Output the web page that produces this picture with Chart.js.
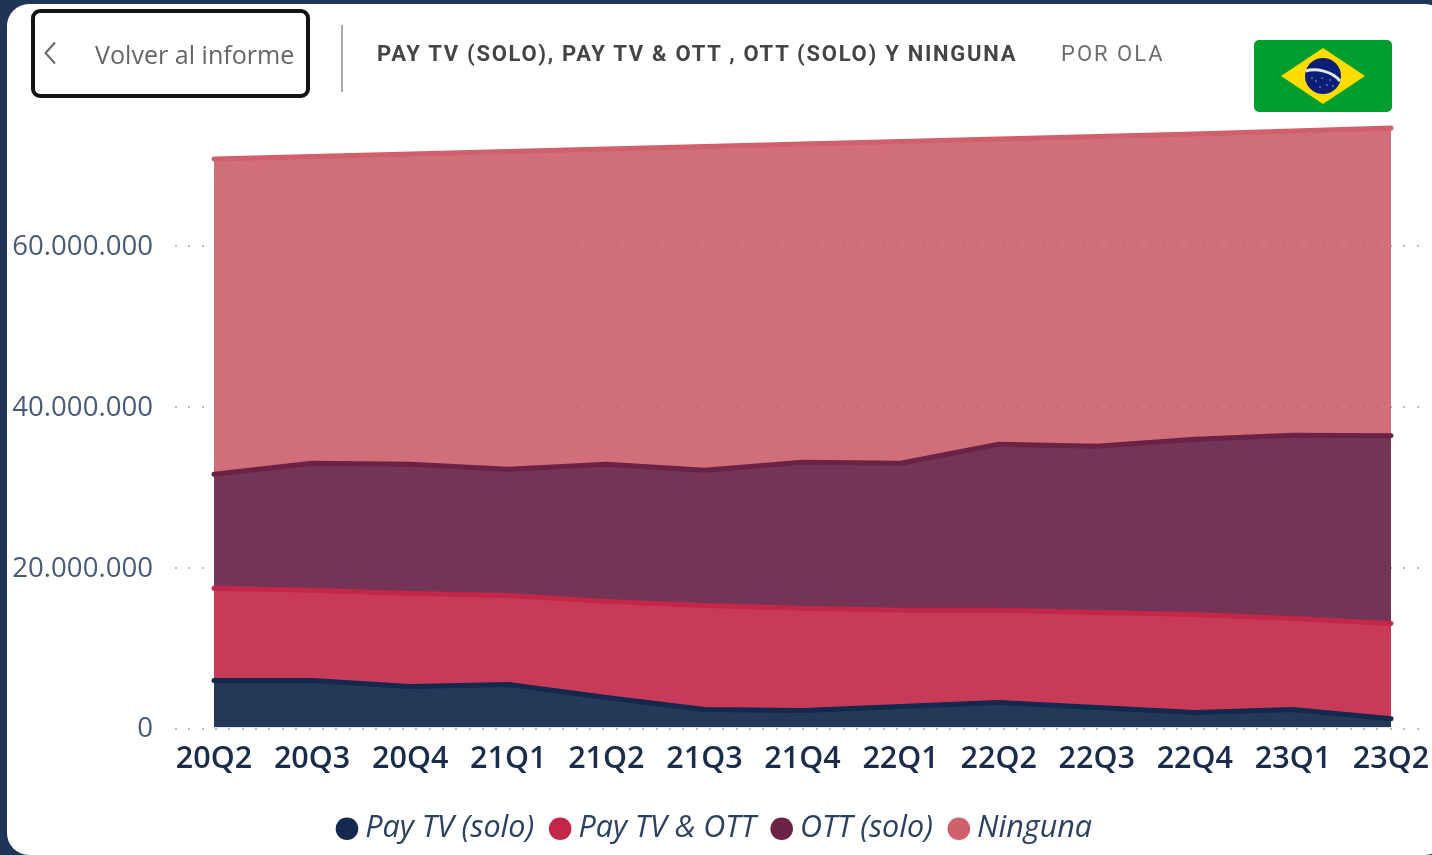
<!DOCTYPE html>
<html lang="es"><head><meta charset="utf-8"><title>Pay TV</title>
<script src="https://cdn.jsdelivr.net/npm/chart.js@4"></script>
<style>
html,body{margin:0;padding:0;width:1432px;height:855px;overflow:hidden;background:#1f3557}
#card{position:absolute;left:7px;top:4px;width:1440px;height:851px;background:#fff;border-radius:22px}
#wrap{position:absolute;left:0;top:0;width:1432px;height:855px}
.t{position:absolute;white-space:nowrap}
#btn{position:absolute;left:31px;top:9px;width:271px;height:81px;border:4px solid #131313;border-radius:9px;background:#fff}
#sep{position:absolute;left:341px;top:25px;width:2px;height:67px;background:#a8a8a8}
#back{left:95px;top:37px;font:25.1px "Open Sans",sans-serif;color:#666}
#title{left:377px;top:41px;font:700 22px Roboto,sans-serif;color:#454545;letter-spacing:1.72px}
#sub{left:1061px;top:41px;font:400 22px Roboto,sans-serif;color:#6e6e6e;letter-spacing:2px}
svg{position:absolute}
</style></head><body>
<div id="card"></div>
<div id="wrap"><canvas id="c" width="1432" height="855"></canvas></div>
<div id="btn"></div>
<svg style="left:40px;top:38px" width="20" height="30"><path d="M15 4.5 L5.5 15 L15 25.5" fill="none" stroke="#666" stroke-width="2"/></svg>
<div id="sep"></div>
<div class="t" id="back">Volver al informe</div>
<div class="t" id="title">PAY TV (SOLO), PAY TV &amp; OTT , OTT (SOLO) Y NINGUNA</div>
<div class="t" id="sub">POR OLA</div>
<svg style="left:1254px;top:40px" width="138" height="72" viewBox="0 0 138 72">
<rect width="138" height="72" rx="5" fill="#009e2f"/>
<path d="M27 36 L69 8 L111 36 L69 64 Z" fill="#ffdc00"/>
<circle cx="69" cy="36" r="18" fill="#0b1f78"/>
<path d="M51.5 31 C62 28 78 31 86 41" fill="none" stroke="#e6e9e6" stroke-width="3"/>
<g fill="#c8cfe6"><circle cx="62" cy="41" r=".7"/><circle cx="68" cy="38" r=".7"/><circle cx="73" cy="45" r=".7"/><circle cx="79" cy="46" r=".7"/><circle cx="66" cy="47" r=".7"/><circle cx="58" cy="38" r=".7"/><circle cx="76" cy="40" r=".7"/></g>
</svg>
<script>
const categories = ['20Q2','20Q3','20Q4','21Q1','21Q2','21Q3','21Q4','22Q1','22Q2','22Q3','22Q4','23Q1','23Q2'];
const payTvSolo = [5860000,5860000,5100000,5360000,3740000,2240000,2120000,2620000,3100000,2500000,1870000,2240000,1100000];
const payTvOtt  = [11460000,11210000,11590000,11080000,11960000,12960000,12710000,11960000,11480000,11830000,12210000,11340000,11860000];
const ottSolo   = [14200000,15820000,16070000,15700000,17060000,16820000,18180000,18310000,20680000,20680000,21800000,22800000,23350000];
const ninguna   = [39240000,38180000,38620000,39560000,39250000,40300000,39620000,40050000,37990000,38550000,38000000,37870000,38310000];
const seriesNames = ['Pay TV (solo)','Pay TV & OTT','OTT (solo)','Ninguna'];
const yTickValues = [0,20000000,40000000,60000000];
const lineColors = ['#12284c','#c4264a','#6a2344','#d0606c'];
const fillColors = ['rgba(17,39,73,.92)','rgba(194,38,70,.9)','rgba(103,35,70,.92)','rgba(200,86,98,.85)'];
const seriesValues = [payTvSolo,payTvOtt,ottSolo,ninguna];

const dottedGrid = {
  id:'dottedGrid',
  afterLayout(chart){
    const y=chart.scales.y, base=y.drawLabels;
    if(!y._shifted){
      y._shifted=true;
      y.drawLabels=function(a){const c=this.ctx;c.save();c.translate(0,2);base.call(this,a);c.restore();};
    }
    chart.legend.left=0; chart.legend.right=1436;
  },
  beforeDatasetsDraw(chart){
    const {ctx,chartArea,scales:{y}} = chart;
    ctx.save();
    ctx.fillStyle='#b9bcc4';
    y.ticks.forEach(t=>{
      const py=Math.round(y.getPixelForValue(t.value));
      for(let x=chartArea.left-39;x<chartArea.right+34;x+=13.35){ ctx.fillRect(Math.round(x),py,2,2); }
    });
    ctx.restore();
  }
};

new Chart(document.getElementById('c'),{
  type:'line',
  plugins:[dottedGrid],
  data:{labels:categories,datasets:seriesNames.map((n,i)=>({
    label:n,data:seriesValues[i],
    borderColor:lineColors[i],backgroundColor:fillColors[i],
    borderWidth:5,borderCapStyle:'round',borderJoinStyle:'round',
    pointRadius:0,tension:0,clip:false,
    fill:i===0?'origin':'-1'
  }))},
  options:{
    responsive:false,animation:false,
    layout:{padding:{left:0,right:41,top:125,bottom:1}},
    scales:{
      x:{stacked:true,offset:false,grid:{display:false},border:{display:false},
         afterFit(s){s.height=63;s.paddingLeft=0;s.paddingRight=0;},
         ticks:{autoSkip:false,maxRotation:0,minRotation:0,padding:6,color:'#1a2c4c',font:{family:'"Open Sans"',size:30.5,weight:'600'}}},
      y:{stacked:true,min:0,max:75000000,grid:{display:false,drawTicks:false},border:{display:false},
         afterFit(s){s.width=214;s.paddingTop=0;s.paddingBottom=0;},
         afterBuildTicks(s){s.ticks=yTickValues.map(v=>({value:v}));},
         ticks:{padding:61,color:'#475a78',font:{family:'"Open Sans"',size:27.6},
                callback:v=>String(v).replace(/\B(?=(\d{3})+$)/g,'.')}}
    },
    plugins:{
      tooltip:{enabled:false},
      legend:{position:'bottom',labels:{
        usePointStyle:true,pointStyle:'circle',boxWidth:6,boxHeight:16,padding:23,
        color:'#2c4060',font:{family:'"Open Sans"',size:30.5,style:'italic'},
        generateLabels(chart){return chart.data.datasets.map((d,i)=>({text:d.label,fillStyle:lineColors[i],strokeStyle:lineColors[i],lineWidth:0,pointStyle:'circle',datasetIndex:i,fontColor:'#2c4060'}));}
      }}
    }
  }
});
</script></body></html>
